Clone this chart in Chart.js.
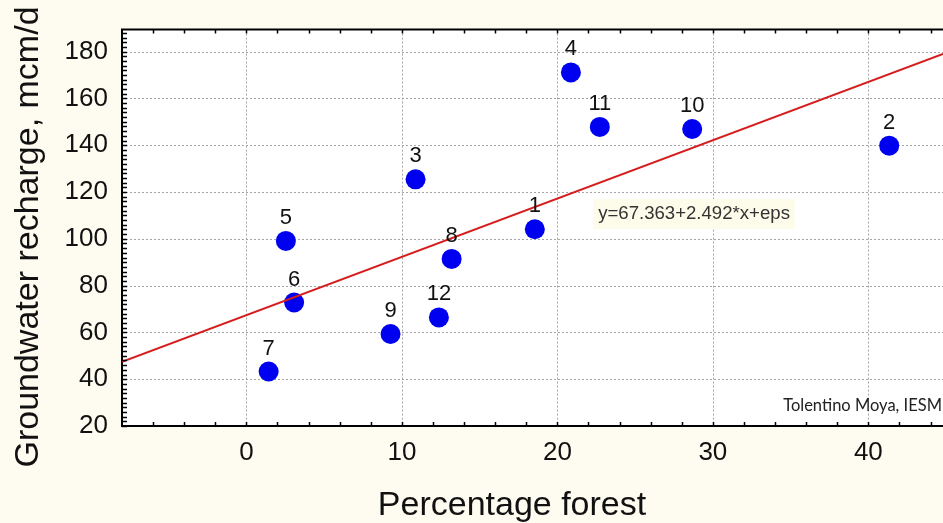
<!DOCTYPE html>
<html>
<head>
<meta charset="utf-8">
<script src="https://cdn.jsdelivr.net/npm/chart.js@4.4.1/dist/chart.umd.min.js"></script>
<style>
  html, body { margin: 0; padding: 0; background: #FEFCF0; overflow: hidden; }
  #wrap { position: relative; width: 943px; height: 523px; }
</style>
</head>
<body>
<div id="wrap"><canvas id="c" width="943" height="523"></canvas></div>
<script>
// ---- data ----
const pointLabels = ['1','2','3','4','5','6','7','8','9','10','11','12'];
const forestPct   = [18.55, 41.34, 10.88, 20.87, 2.54, 3.07, 1.43, 13.2, 9.27, 28.67, 22.73, 12.38];
const recharge    = [104.1, 139.8, 125.4, 171.1, 99.1, 72.8, 43.3, 91.4, 59.3, 146.9, 147.8, 66.4];
const fitX = [-8, 44.8];
const fitY = [47.4, 179.0];
const xTickValues = [0, 10, 20, 30, 40];
const yTickValues = [20, 40, 60, 80, 100, 120, 140, 160, 180];
const xTitle = 'Percentage forest';
const yTitle = 'Groundwater recharge, mcm/d';
const equationText = 'y=67.363+2.492*x+eps';
const equationPos = [22.3, 117];
const creditText = 'Tolentino Moya, IESM';

const FONT = '"Liberation Sans", Arial, sans-serif';

const decorPlugin = {
  id: 'decor',
  beforeDraw(chart) {
    const {ctx, chartArea: a} = chart;
    ctx.save();
    ctx.fillStyle = '#FEFCF0';
    ctx.fillRect(0, 0, chart.width, chart.height);
    ctx.fillStyle = '#FFFFFF';
    ctx.fillRect(a.left, a.top, a.right - a.left, a.bottom - a.top);
    ctx.restore();
  },
  beforeDatasetsDraw(chart) {
    const {ctx, chartArea: a, scales: {x, y}} = chart;
    ctx.save();
    ctx.strokeStyle = '#A4A4A4';
    ctx.lineWidth = 1;
    ctx.setLineDash([2, 2]);
    ctx.beginPath();
    xTickValues.forEach(v => {
      const px = Math.round(x.getPixelForValue(v)) + 0.5;
      ctx.moveTo(px, a.top); ctx.lineTo(px, a.bottom);
    });
    yTickValues.forEach(v => {
      if (v === y.min) return;
      const py = Math.round(y.getPixelForValue(v)) + 0.5;
      ctx.moveTo(a.left, py); ctx.lineTo(a.right, py);
    });
    ctx.stroke();
    ctx.restore();
  },
  afterDatasetsDraw(chart) {
    const {ctx, chartArea: a, scales: {x, y}} = chart;
    ctx.save();
    // point labels
    const meta = chart.getDatasetMeta(1);
    ctx.fillStyle = '#111';
    ctx.font = '22px ' + FONT;
    ctx.textAlign = 'center';
    ctx.textBaseline = 'middle';
    meta.data.forEach((el, i) => {
      ctx.fillText(pointLabels[i], el.x, el.y - 23);
    });
    // equation box
    const bx = x.getPixelForValue(equationPos[0]);
    const by = y.getPixelForValue(equationPos[1]);
    ctx.font = '18.6px ' + FONT;
    const w = ctx.measureText(equationText).width;
    ctx.fillStyle = '#FDFBE9';
    ctx.fillRect(bx, by, w + 10, 30);
    ctx.fillStyle = '#333';
    ctx.textAlign = 'left';
    ctx.textBaseline = 'middle';
    ctx.fillText(equationText, bx + 5, by + 15);
    // credit
    ctx.font = '16.5px Lato, "Open Sans", sans-serif';
    ctx.fillStyle = '#222';
    ctx.textAlign = 'right';
    ctx.textBaseline = 'alphabetic';
    ctx.fillText(creditText, a.right - 1, a.bottom - 15);
    ctx.restore();
  },
  afterDraw(chart) {
    const {ctx, chartArea: a, scales: {x, y}} = chart;
    ctx.save();
    // top border
    ctx.strokeStyle = '#000';
    ctx.lineWidth = 2;
    ctx.beginPath();
    ctx.moveTo(a.left - 1, a.top);
    ctx.lineTo(a.right, a.top);
    ctx.stroke();
    // minor ticks
    ctx.lineWidth = 1.5;
    ctx.beginPath();
    for (let v = x.min; v <= x.max + 1e-6; v += 2) {
      const px = Math.round(x.getPixelForValue(v)) + 0.5;
      if (px <= a.left + 2) continue;
      ctx.moveTo(px, a.bottom); ctx.lineTo(px, a.bottom - 4);
      ctx.moveTo(px, a.top); ctx.lineTo(px, a.top + 4);
    }
    for (let v = y.min; v <= y.max + 1e-6; v += 2) {
      const py = Math.round(y.getPixelForValue(v)) + 0.5;
      ctx.moveTo(a.left, py); ctx.lineTo(a.left + 5, py);
    }
    ctx.stroke();
    // axis titles
    ctx.fillStyle = '#111';
    ctx.font = '34px ' + FONT;
    ctx.textAlign = 'center';
    ctx.textBaseline = 'alphabetic';
    ctx.fillText(xTitle, 512, 515);
    ctx.translate(38, 237);
    ctx.rotate(-Math.PI / 2);
    ctx.fillText(yTitle, 0, 0);
    ctx.restore();
  }
};

new Chart(document.getElementById('c'), {
  type: 'scatter',
  data: {
    datasets: [
      {
        type: 'line',
        data: fitX.map((v, i) => ({x: v, y: fitY[i]})),
        borderColor: '#D61C1C',
        borderWidth: 2,
        pointRadius: 0,
        fill: false,
        order: 0
      },
      {
        data: forestPct.map((v, i) => ({x: v, y: recharge[i]})),
        backgroundColor: '#0000F0',
        borderWidth: 0,
        pointRadius: 10,
        pointHoverRadius: 10,
        order: 1
      }
    ]
  },
  options: {
    responsive: false,
    animation: false,
    events: [],
    layout: { autoPadding: false, padding: { left: 0, right: 0, top: 28, bottom: 0 } },
    plugins: { legend: { display: false }, tooltip: { enabled: false } },
    scales: {
      x: {
        type: 'linear',
        min: -8, max: 44.8,
        afterFit(s) { s.height = 97; },
        afterBuildTicks(s) { s.ticks = xTickValues.map(v => ({value: v})); },
        grid: { display: false, drawTicks: false },
        border: { display: true, color: '#000', width: 2 },
        ticks: { padding: 11, color: '#111', font: { family: FONT, size: 26 }, callback: v => String(v) }
      },
      y: {
        type: 'linear',
        min: 20, max: 189.4,
        afterFit(s) { s.width = 122; },
        afterBuildTicks(s) { s.ticks = yTickValues.map(v => ({value: v})); },
        grid: { display: false, drawTicks: false },
        border: { display: true, color: '#000', width: 2 },
        ticks: { padding: 14, color: '#111', font: { family: FONT, size: 26 }, callback: v => String(v) }
      }
    }
  },
  plugins: [decorPlugin]
});
</script>
</body>
</html>
